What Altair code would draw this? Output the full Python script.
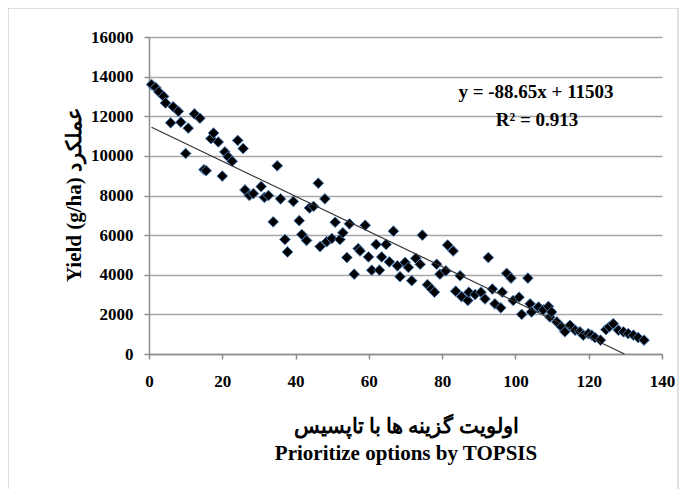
import altair as alt
import pandas as pd

# TOPSIS priority (x) and yield g/ha (y)
rank = [0.7, 1.8, 2.7, 4.0, 4.5, 5.9, 6.6, 8.0, 8.7, 10.0, 10.7, 12.4, 13.9, 15.0, 15.6,
        16.9, 17.6, 18.9, 20.0, 20.7, 21.6, 22.7, 24.2, 25.7, 26.2, 27.4, 28.5, 30.6, 31.5, 32.6,
        33.9, 35.0, 35.9, 37.1, 37.8, 39.4, 41.0, 41.7, 43.0, 43.8, 44.9, 46.2, 46.7, 48.0, 48.5,
        49.9, 50.8, 52.1, 52.9, 54.0, 54.7, 56.0, 57.1, 57.6, 59.0, 59.9, 60.8, 62.0, 62.9, 63.5,
        64.7, 65.6, 66.7, 67.8, 68.5, 69.9, 70.8, 71.7, 72.8, 74.0, 74.6, 76.0, 77.1, 77.9, 78.5,
        79.4, 81.0, 81.5, 83.0, 83.7, 84.9, 85.3, 87.0, 87.3, 89.0, 90.6, 91.7, 92.6, 93.7, 94.4,
        96.0, 96.4, 97.6, 98.8, 99.4, 101.0, 101.7, 103.4, 104.0, 104.4, 106.3, 107.6, 109.0, 109.4, 109.9,
        111.3, 112.6, 113.5, 114.9, 116.3, 117.6, 118.5, 119.9, 120.8, 121.7, 123.2, 124.7, 125.6, 126.7,
        128.1, 129.5, 130.8, 132.2, 133.5, 135.1]
yield_gha = [13600, 13450, 13230, 13000, 12670, 11670, 12480, 12250, 11700, 10120, 11400, 12120, 11900, 9300, 9250,
             10870, 11150, 10700, 8980, 10200, 9950, 9730, 10780, 10370, 8280, 8000, 8100, 8450, 7900, 8000,
             6670, 9500, 7830, 5780, 5150, 7700, 6730, 6030, 5730, 7370, 7450, 8620, 5420, 7830, 5670,
             5830, 6650, 5780, 6120, 4870, 6570, 4030, 5320, 5200, 6500, 4900, 4230, 5530, 4230, 4900,
             5530, 4650, 6200, 4450, 3900, 4620, 4370, 3700, 4830, 4530, 6000, 3500, 3280, 3120, 4530,
             4030, 4200, 5500, 5200, 3170, 3950, 2900, 2700, 3120, 3000, 3120, 2780, 4870, 3280, 2530,
             2330, 3120, 4070, 3830, 2700, 2870, 2000, 3830, 2530, 2120, 2370, 2230, 2400, 1870, 2120,
             1620, 1370, 1120, 1450, 1200, 1120, 950, 1030, 950, 830, 700, 1230, 1370, 1530,
             1200, 1120, 1030, 950, 830, 700]

slope = -88.65
intercept = 11503
equation_text = "y = -88.65x + 11503"
r2_text = "R² = 0.913"

x_ticks = [0, 20, 40, 60, 80, 100, 120, 140]
y_ticks = [0, 2000, 4000, 6000, 8000, 10000, 12000, 14000, 16000]

pts = pd.DataFrame({"x": rank, "y": yield_gha})
x_start = min(rank)
x_end = -intercept / slope
trend = pd.DataFrame({"x": [x_start, x_end], "y": [slope * x_start + intercept, slope * x_end + intercept]})

FONT = "Liberation Serif"

xscale = alt.Scale(domain=[0, 140], nice=False, zero=False)
yscale = alt.Scale(domain=[0, 16000], nice=False)

xaxis = alt.Axis(values=x_ticks, grid=False, format="d", labelOverlap=False,
                 title=["اولویت گزینه ها با تاپسیس", "Prioritize options by TOPSIS"],
                 titleLineHeight=27, titlePadding=26, labelPadding=14, tickSize=5,
                 labelFlush=False)
yaxis = alt.Axis(values=y_ticks, grid=True, format="d", labelOverlap=False, title="Yield (g/ha) عملکرد",
                 titleX=-75, titleY=157, titleBaseline="middle", titleAlign="center", titleAngle=270,
                 labelPadding=11, tickSize=5)

border = alt.Chart(pd.DataFrame({"a": [0]})).mark_rect(
    fill="white", fillOpacity=0, stroke="#bfbfbf", strokeWidth=1
).encode(x=alt.value(-141), x2=alt.value(529), y=alt.value(-29), y2=alt.value(453))

points = alt.Chart(pts).mark_point(
    shape="diamond", filled=True, size=115, fill="black", stroke="#4f81bd", strokeWidth=1, opacity=1
).encode(
    x=alt.X("x:Q", scale=xscale, axis=xaxis),
    y=alt.Y("y:Q", scale=yscale, axis=yaxis),
)

line = alt.Chart(trend).mark_line(color="#333333", strokeWidth=1.2).encode(
    x=alt.X("x:Q", scale=xscale, axis=xaxis), y=alt.Y("y:Q", scale=yscale, axis=yaxis)
)

text_style = dict(font=FONT, fontWeight="bold", fontSize=19, align="center", baseline="middle", color="black")
eq = alt.Chart(pd.DataFrame({"t": [equation_text]})).mark_text(**text_style).encode(
    text="t:N", x=alt.value(387), y=alt.value(55))
r2 = alt.Chart(pd.DataFrame({"t": [r2_text]})).mark_text(**text_style).encode(
    text="t:N", x=alt.value(388), y=alt.value(83))

chart = alt.layer(border, points, line, eq, r2).properties(
    width=513, height=317,
    autosize=alt.AutoSizeParams(type="none"),
    padding={"left": 141, "top": 29, "right": 17, "bottom": 135},
).configure_view(stroke=None).configure_axis(
    labelFont=FONT, labelFontWeight="bold", labelFontSize=17, labelColor="black",
    titleFont=FONT, titleFontWeight="bold", titleFontSize=21, titleColor="black",
    domainColor="#8c8c8c", domainWidth=1.5, tickColor="#8c8c8c", tickWidth=1.5,
    gridColor="#a6a6a6", gridWidth=1.5,
)

chart.save("out.html", embed_options={"renderer": "svg", "actions": False})
